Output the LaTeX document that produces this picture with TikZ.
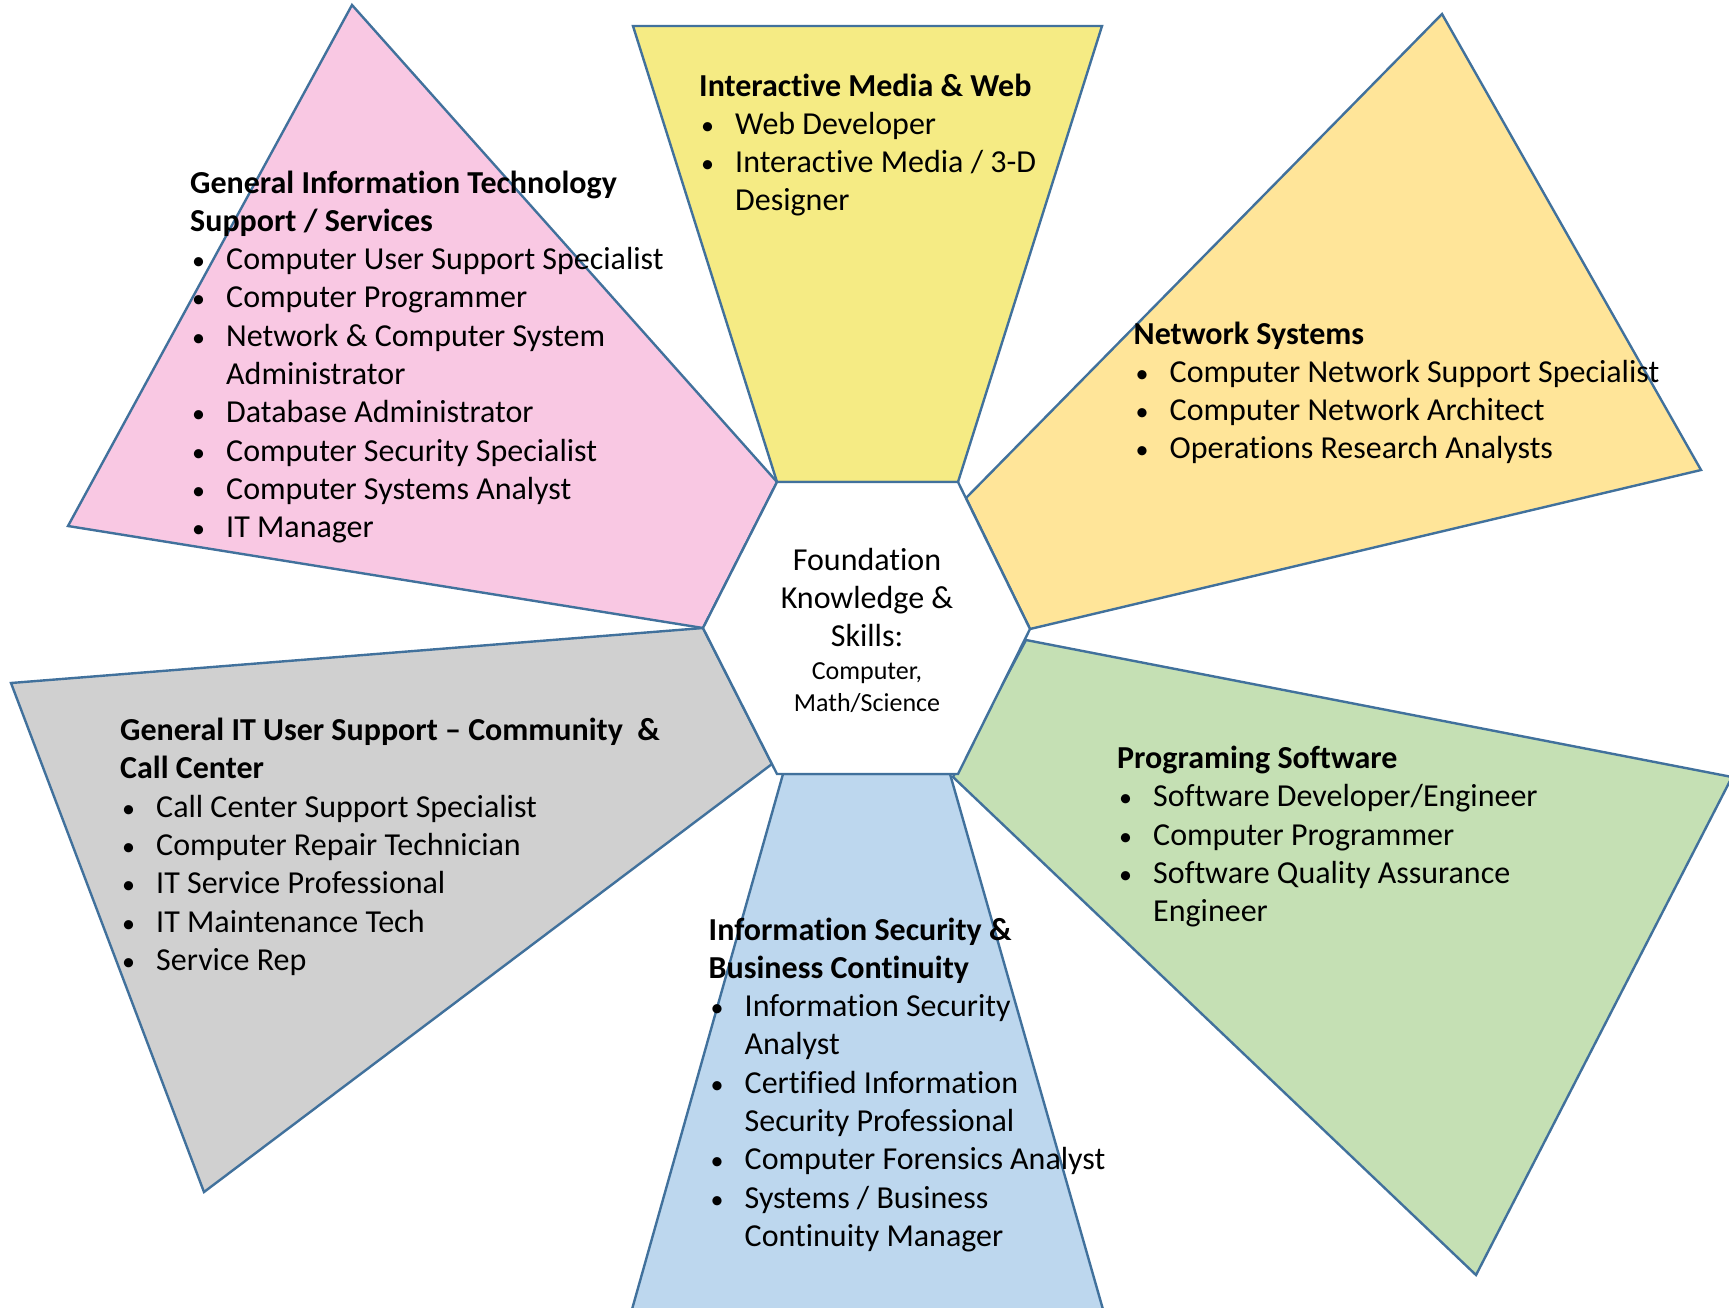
\documentclass[tikz,border=0pt]{standalone}
\usepackage{fontspec}
\setmainfont{Carlito}[Ligatures={NoCommon}]
\usepackage{array}
\definecolor{edgec}{HTML}{41719C}
\definecolor{pinkc}{HTML}{F9C8E3}
\definecolor{yellowc}{HTML}{F5EB84}
\definecolor{goldc}{HTML}{FFE599}
\definecolor{greenc}{HTML}{C5E0B4}
\definecolor{bluec}{HTML}{BDD7EE}
\definecolor{grayc}{HTML}{D0D0D0}
\newcommand\hdr[1]{\multicolumn{2}{@{}l@{}}{\bfseries #1}}
\newcommand\itm[1]{{\fontsize{26}{26}\selectfont\textbullet} & #1}
\newenvironment{blist}{\begin{tabular}[t]{@{\hspace{2pt}}p{34pt}@{}l@{}}}{\end{tabular}}
\begin{document}
\begin{tikzpicture}[x=1pt,y=-1pt,
  petal/.style={draw=edgec,line width=2.4pt,line join=miter},
  txt/.style={anchor=base west,inner sep=0pt,font=\fontsize{32}{38.3}\selectfont},
  hextxt/.style={anchor=base,inner sep=0pt}]
\useasboundingbox (0,0) rectangle (1729,1307);
\fill[white] (0,0) rectangle (1729,1307);
% hexagon corners
\coordinate (hTL) at (777,482);
\coordinate (hTR) at (958,482);
\coordinate (hR) at (1030,629);
\coordinate (hBR) at (958,774);
\coordinate (hBL) at (777,774);
\coordinate (hL) at (703,628);
% petals
\draw[petal,fill=pinkc] (352,5) -- (hTL) -- (hL) -- (68,526) -- cycle;
\draw[petal,fill=yellowc] (633,26) -- (1102,26) -- (hTR) -- (hTL) -- cycle;
\draw[petal,fill=goldc] (1442,14) -- (1701,470) -- (hR) -- (966,498) -- cycle;
\draw[petal,fill=greenc] (1026,640) -- (1732,777) -- (1476,1275) -- (953,777) -- cycle;
\draw[petal,fill=bluec] (783,774) -- (950,774) -- (1106,1320) -- (629,1320) -- cycle;
\draw[petal,fill=grayc] (11,683) -- (hL) -- (772,764) -- (204,1192) -- cycle;
\draw[petal,fill=white] (hTL) -- (hTR) -- (hR) -- (hBR) -- (hBL) -- (hL) -- cycle;
% texts
\node[txt] (pinkT) at (190,193) {\begin{blist}
\hdr{General Information Technology}\\
\hdr{Support / Services}\\
\itm{Computer User Support Specialist}\\
\itm{Computer Programmer}\\
\itm{Network \& Computer System}\\
 & Administrator\\
\itm{Database Administrator}\\
\itm{Computer Security Specialist}\\
\itm{Computer Systems Analyst}\\
\itm{IT Manager}
\end{blist}};
\node[txt] (yellowT) at (699,96) {\begin{blist}
\hdr{Interactive Media \& Web}\\
\itm{Web Developer}\\
\itm{Interactive Media / 3-D}\\
 & Designer
\end{blist}};
\node[txt] (goldT) at (1133.5,344) {\begin{blist}
\hdr{Network Systems}\\
\itm{Computer Network Support Specialist}\\
\itm{Computer Network Architect}\\
\itm{Operations Research Analysts}
\end{blist}};
\node[txt] (grayT) at (120,740.5) {\begin{blist}
\hdr{General IT User Support -- Community\ \ \&}\\
\hdr{Call Center}\\
\itm{Call Center Support Specialist}\\
\itm{Computer Repair Technician}\\
\itm{IT Service Professional}\\
\itm{IT Maintenance Tech}\\
\itm{Service Rep}
\end{blist}};
\node[txt] (greenT) at (1117,768.6) {\begin{blist}
\hdr{Programing Software}\\
\itm{Software Developer/Engineer}\\
\itm{Computer Programmer}\\
\itm{Software Quality Assurance}\\
 & Engineer
\end{blist}};
\node[txt] (blueT) at (708.5,940) {\begin{blist}
\hdr{Information Security \&}\\
\hdr{Business Continuity}\\
\itm{Information Security}\\
 & Analyst\\
\itm{Certified Information}\\
 & Security Professional\\
\itm{Computer Forensics Analyst}\\
\itm{Systems / Business}\\
 & Continuity Manager
\end{blist}};
\node[hextxt,font=\fontsize{32}{38}\selectfont] (hexA) at (867,570) {\begin{tabular}[t]{@{}c@{}}Foundation\\Knowledge \&\\Skills:\end{tabular}};
\node[hextxt,font=\fontsize{26}{31.7}\selectfont] (hexB) at (867,679.5) {\begin{tabular}[t]{@{}c@{}}Computer,\\Math/Science\end{tabular}};
\end{tikzpicture}
\end{document}
